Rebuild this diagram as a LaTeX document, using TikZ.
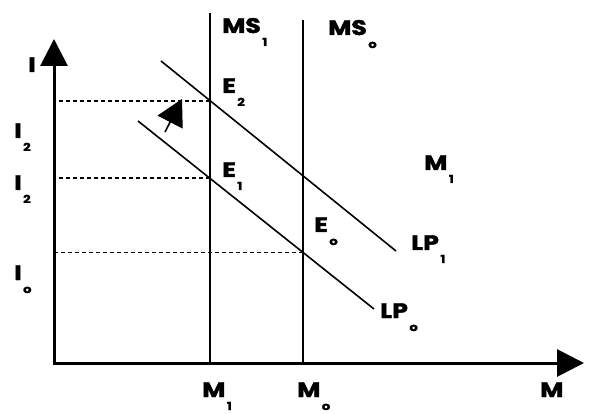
\documentclass[tikz,border=0pt]{standalone}
\usepackage{fontspec}
\setmainfont{Poppins}[FakeStretch=1.2,BoldFeatures={FakeBold=2}]
\usetikzlibrary{arrows.meta}
% letter with a low, detached subscript
\newcommand{\sbs}[2]{#1\hspace{1.5pt}\raisebox{-13pt}{\fontsize{11}{11}\selectfont #2}}
\begin{document}
\begin{tikzpicture}[x=1pt,y=-1pt,
  lbl/.style={anchor=base west,inner sep=0pt,font=\fontsize{21}{24}\selectfont\bfseries},
  axis/.style={line width=3pt,-{Triangle[length=27pt 0,width=27pt 0]}},
  curve/.style={line width=1.6pt},
  guide/.style={line width=1.8pt,dash pattern=on 4pt off 3pt}]
  \useasboundingbox (0,0) rectangle (592,414);
  % axes
  \coordinate (O) at (54,363);
  \coordinate (ytop) at (54,39);
  \coordinate (xend) at (584,363);
  \draw[axis] ([yshift=1.5pt]O) -- (ytop);
  \draw[axis] ([xshift=-1.5pt]O) -- (xend);
  % money supply
  \coordinate (ms1a) at (210,13);  \coordinate (ms1b) at (210,363);
  \coordinate (ms0a) at (303,20);  \coordinate (ms0b) at (303,363);
  \draw[curve] (ms1a) -- (ms1b);
  \draw[curve] (ms0a) -- (ms0b);
  % liquidity preference
  \coordinate (lp1a) at (161,61);  \coordinate (lp1b) at (396,251);
  \coordinate (lp0a) at (138,121); \coordinate (lp0b) at (374,309);
  \draw[curve] (lp1a) -- (lp1b);
  \draw[curve] (lp0a) -- (lp0b);
  % equilibria
  \coordinate (e2) at (intersection of lp1a--lp1b and ms1a--ms1b);
  \coordinate (e1) at (intersection of lp0a--lp0b and ms1a--ms1b);
  \coordinate (e0) at (intersection of lp0a--lp0b and ms0a--ms0b);
  \draw[guide] (e2) -- (e2 -| O);
  \draw[guide] (e1) -- (e1 -| O);
  \draw[guide] (e0) -- (e0 -| O);
  % shift
  \coordinate (sa) at (165,132);
  \coordinate (sb) at (182,99);
  \draw[line width=1.6pt,-{Triangle[length=26pt 0,width=28pt 0]}] (sa) -- (sb);
  % labels
  \node[lbl] (li) at (28,72) {I};
  \node[lbl] (li2a) at (14,138) {\sbs{I}{2}};
  \node[lbl] (li2b) at (14,190) {\sbs{I}{2}};
  \node[lbl] (li0) at (14,280) {\sbs{I}{o}};
  \node[lbl] (lms1) at (222,33) {\sbs{MS}{1}};
  \node[lbl] (lms0) at (328,35) {\sbs{MS}{o}};
  \node[lbl] (le2) at (222,93) {\sbs{E}{2}};
  \node[lbl] (le1) at (222,177) {\sbs{E}{1}};
  \node[lbl] (le0) at (314,232) {\sbs{E}{o}};
  \node[lbl] (llp1) at (411,250) {\sbs{LP}{1}};
  \node[lbl] (llp0) at (380,318) {\sbs{LP}{o}};
  \node[lbl] (lm1r) at (424,170) {\sbs{M}{1}};
  \node[lbl] (lm) at (540,397) {M};
  \node[lbl] (lm1) at (202,397) {\sbs{M}{1}};
  \node[lbl] (lm0) at (297,397) {\sbs{M}{o}};
\end{tikzpicture}
\end{document}
